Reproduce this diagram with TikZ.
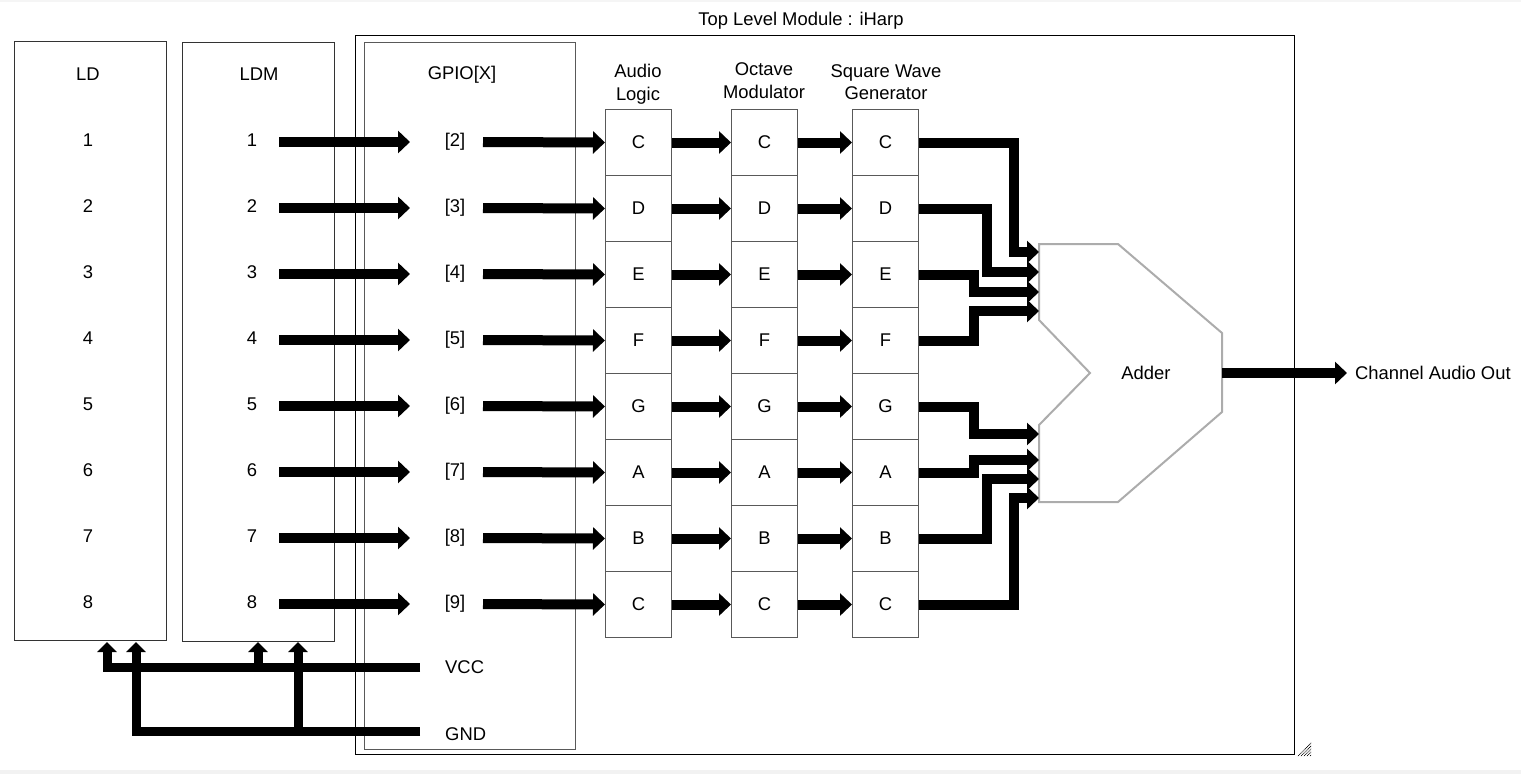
\documentclass[tikz,border=0pt]{standalone}
\usepackage{fontspec}
\setmainfont{Liberation Sans}
\usetikzlibrary{arrows.meta,calc}
\begin{document}
\begin{tikzpicture}[x=1pt,y=-1pt,font=\fontsize{18.4}{22.5}\selectfont,
  bus/.style={line width=10pt,line join=miter,-{Triangle[length=12pt,width=22pt]}},
  pwr/.style={line width=9pt,line join=miter,-{Triangle[length=10pt,width=19pt]}},
  box/.style={draw=black!80,line width=1pt,inner sep=0pt,anchor=north west},
  cell/.style={draw=black!65,line width=1pt,minimum width=66pt,minimum height=66pt,inner sep=0pt,anchor=north west},
  lbl/.style={inner sep=0pt}]
\useasboundingbox (0,0) rectangle (1521,774);
\fill[gray!10] (0,770) rectangle (1521,774);
\fill[gray!8] (0,0) rectangle (1521,2);
% outer boxes
\node[box,minimum width=152pt,minimum height=599pt] (ld) at (14,41) {};
\node[box,minimum width=152pt,minimum height=599pt] (ldm) at (182,42) {};
\node[box,draw=black,line width=1.2pt,minimum width=939pt,minimum height=719pt] (top) at (355,35) {};
\node[box,draw=black!65,minimum width=211pt,minimum height=707pt] (gpio) at (364,42) {};
\node[lbl] (topt) at (801,21) {Top Level Module : iHarp};
\node[lbl] (ldt) at (88,74) {LD};
\node[lbl] (ldmt) at (259,74) {LDM};
\node[lbl] (gpiot) at (462,75) {GPIO[X]};
\node[lbl,align=center] (alh) at (638,84) {Audio\\Logic};
\node[lbl,align=center] (omh) at (764,80.5) {Octave\\Modulator};
\node[lbl,align=center] (swh) at (886,82) {Square Wave\\Generator};
% rows
\foreach \i/\n/\g/\c in {0/1/2/C,1/2/3/D,2/3/4/E,3/4/5/F,4/5/6/G,5/6/7/A,6/7/8/B,7/8/9/C} {
  \pgfmathsetmacro\yy{142+66*\i}
  \node[lbl] (ldn\n) at (88,\yy-2) {\n};
  \node[lbl] (ldmn\n) at (252,\yy-2) {\n};
  \node[lbl] (gp\n) at (455,\yy) {[\g]};
  \node[cell] (al\n) at (605,109+66*\i) {\c};
  \node[cell] (om\n) at (731,109+66*\i) {\c};
  \node[cell] (sw\n) at (852,109+66*\i) {\c};
  \coordinate (ls\n) at (279,\yy);
  \coordinate (gt\n) at (410,\yy);
  \coordinate (gs\n) at (483,\yy);
  \draw[bus] (ls\n) -- (gt\n);
  \draw[bus] (gs\n) -- (al\n.west);
  \draw[bus] (al\n.east) -- (om\n.west);
  \draw[bus] (om\n.east) -- (sw\n.west);
}
% adder
\draw[draw=gray!65,line width=2pt,fill=white] (1039,244) -- (1118,244) -- (1222,333) -- (1222,412) -- (1118,502) -- (1039,502) -- (1039,425) -- (1090,373) -- (1039,320) -- cycle;
\node[lbl] (adder) at (1146,373) {Adder};
\coordinate (in1) at (1039,252);
\coordinate (in2) at (1039,272);
\coordinate (in3) at (1039,292);
\coordinate (in4) at (1039,311);
\coordinate (in5) at (1039,434);
\coordinate (in6) at (1039,460);
\coordinate (in7) at (1039,479);
\coordinate (in8) at (1039,498);
\draw[bus] (sw1.east) -| ([xshift=-25pt]in1) -- (in1);
\draw[bus] (sw2.east) -| ([xshift=-52pt]in2) -- (in2);
\draw[bus] (sw3.east) -| ([xshift=-65pt]in3) -- (in3);
\draw[bus] (sw4.east) -| ([xshift=-65pt]in4) -- (in4);
\draw[bus] (sw5.east) -| ([xshift=-65pt]in5) -- (in5);
\draw[bus] (sw6.east) -| ([xshift=-65pt]in6) -- (in6);
\draw[bus] (sw7.east) -| ([xshift=-52pt]in7) -- (in7);
\draw[bus] (sw8.east) -| ([xshift=-25pt]in8) -- (in8);
\coordinate (aout) at (1222,373);
\node[lbl,anchor=west] (out) at (1355,373) {Channel Audio Out};
\draw[bus] (aout) -- ([xshift=-8pt]out.west);
% power
\node[lbl,anchor=west] (vcc) at (445,667) {VCC};
\node[lbl,anchor=west] (gnd) at (445,734) {GND};
\coordinate (vccend) at (420,667);
\coordinate (gndend) at (420,731);
\coordinate (ldv) at (107,642);
\coordinate (ldg) at (136,642);
\coordinate (ldmv) at (258,642);
\coordinate (ldmg) at (298,642);
\draw[pwr] (vccend) -| (ldv);
\draw[pwr] (ldmv |- vccend) -- (ldmv);
\draw[pwr] (gndend) -| (ldg);
\draw[pwr] (ldmg |- gndend) -- (ldmg);
% resize grip
\begin{scope}
\clip (1296,756) -- (1311,756) -- (1311,741) -- cycle;
\foreach \k in {0,...,5}
  \draw[line width=0.7pt,dash pattern=on 1pt off 0.6pt] (1294+3*\k,757) -- (1312,739+3*\k);
\end{scope}
\end{tikzpicture}
\end{document}
